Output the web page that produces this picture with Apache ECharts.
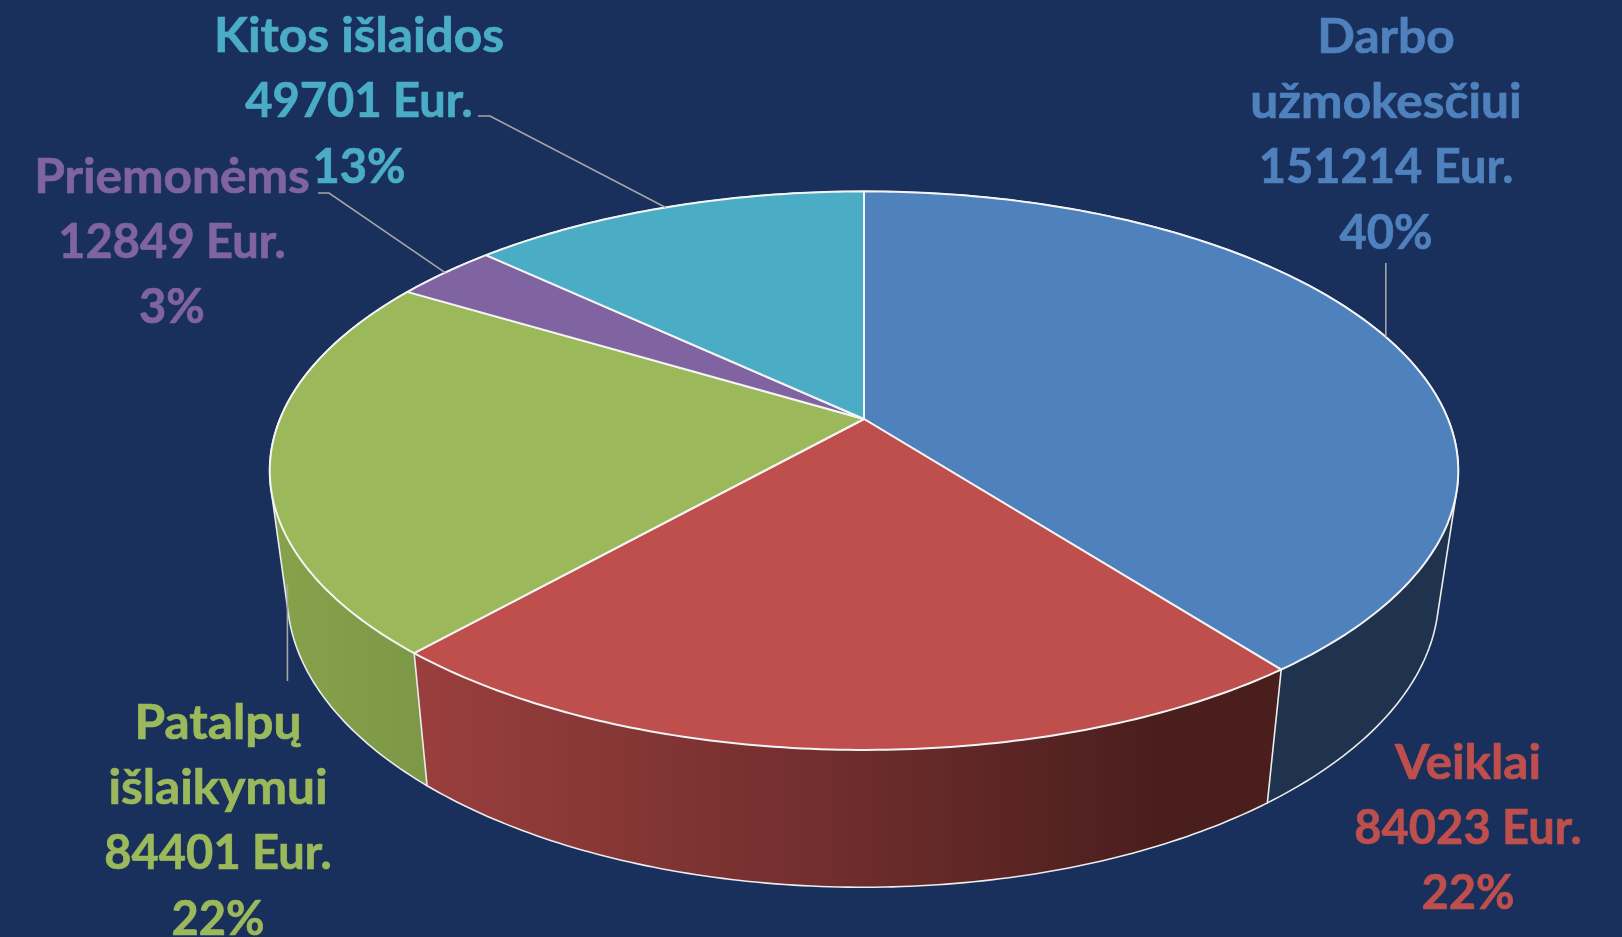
<!DOCTYPE html>
<html>
<head>
<meta charset="utf-8">
<style>html,body{margin:0;padding:0;background:#19305d;overflow:hidden}#c{width:1622px;height:937px}</style>
<script src="https://cdn.jsdelivr.net/npm/echarts@6/dist/echarts.min.js"></script>
</head>
<body>
<div id="c"></div>
<script>
const categories = ['Darbo\nužmokesčiui', 'Veiklai', 'Patalpų\nišlaikymui', 'Priemonėms', 'Kitos išlaidos'];
const amounts = [151214, 84023, 84401, 12849, 49701];
const currency = 'Eur.';
const topColors = ['#4f81bd', '#be4f4c', '#9bb95a', '#8064a2', '#4bacc6'];
const sideColors = [
  [[0, '#1f334e'], [1, '#1f334e']],
  [[0, '#9a3f3e'], [0.5, '#6e2d2c'], [0.85, '#4b1e1e'], [1, '#4b1e1e']],
  [[0, '#86a34b'], [1, '#7c9746']],
  [[0, '#5c4877'], [1, '#5c4877']],
  [[0, '#347c90'], [1, '#347c90']]
];
// label centre x, first baseline y, leader bend points (anchor on the rim is computed)
const labelX = [1386, 1468, 218, 172, 359];
const labelBaseline = [53.5, 779.5, 739.5, 193.5, 53];
const lineStep = 65.3;
const nameStretch = 1.055;
const leaderBends = [
  [[0, 263]],
  null,
  [[0, 681]],
  [[329, 193], [318, 193]],
  [[490, 116], [478, 116]]
];
const leaderOnBottomRim = [false, false, true, false, false];

const total = amounts.reduce((s, v) => s + v, 0);
const tilt = -0.185;
const topRim = { cx: 864, cy: 419, a: 584, b: 269.7 };
const lowRim = { cx: 863, cy: 540, a: 566, b: 283 };

function project(rim, deg) {
  const t = deg * Math.PI / 180, x = Math.sin(t), y = -Math.cos(t), w = 1 + tilt * y;
  return [rim.cx + rim.a * x / w, rim.cy + rim.b * y / w];
}
function arc(rim, from, to) {
  const pts = [], n = Math.max(2, Math.ceil((to - from) / 0.75));
  for (let i = 0; i <= n; i++) pts.push(project(rim, from + (to - from) * i / n));
  return pts;
}
function hull(points) {
  const p = points.slice().sort((a, b) => a[0] - b[0] || a[1] - b[1]);
  const cross = (o, a, b) => (a[0] - o[0]) * (b[1] - o[1]) - (a[1] - o[1]) * (b[0] - o[0]);
  const half = list => {
    const out = [];
    for (const q of list) {
      while (out.length > 1 && cross(out[out.length - 2], out[out.length - 1], q) <= 0) out.pop();
      out.push(q);
    }
    out.pop();
    return out;
  };
  return half(p).concat(half(p.slice().reverse()));
}

function renderSlice(params, api) {
  const i = params.dataIndex;
  const value = api.value(1);
  let before = 0;
  for (let j = 0; j < i; j++) before += amounts[j];
  const from = before / total * 360, to = (before + value) / total * 360, mid = (from + to) / 2;
  const children = [];

  const spansFront = from <= 180 && to >= 180;
  children.push({
    type: 'polygon', z2: spansFront ? 3 : 1, silent: true,
    shape: { points: hull(arc(topRim, from, to).concat(arc(lowRim, from, to))) },
    style: {
      fill: { type: 'linear', x: 0, y: 0, x2: 1, y2: 0, colorStops: sideColors[i].map(c => ({ offset: c[0], color: c[1] })) },
      stroke: '#ececec', lineWidth: 1.6, lineJoin: 'round'
    }
  });
  children.push({
    type: 'polygon', z2: 5, silent: true,
    shape: { points: [[topRim.cx, topRim.cy]].concat(arc(topRim, from, to)) },
    style: { fill: topColors[i], stroke: '#f4f4f4', lineWidth: 2, lineJoin: 'round' }
  });

  if (leaderBends[i]) {
    const anchor = project(leaderOnBottomRim[i] ? lowRim : topRim, mid);
    const pts = [anchor].concat(leaderBends[i].map(p => [p[0] || anchor[0], p[1]]));
    children.push({
      type: 'polyline', z2: 7, silent: true,
      shape: { points: pts },
      style: { fill: 'none', stroke: '#a6a6a6', lineWidth: 1.6 }
    });
  }

  const names = categories[i].split('\n');
  const lines = names.concat([value + ' ' + currency, Math.round(value / total * 100) + '%']);
  lines.forEach((line, k) => {
    children.push({
      type: 'text', z2: 9, silent: true,
      x: labelX[i], y: labelBaseline[i] + k * lineStep - 16,
      scaleX: k < names.length ? nameStretch : 1,
      style: {
        x: 0, y: 0, text: line,
        fill: topColors[i], stroke: topColors[i], lineWidth: 0.7,
        align: 'center', verticalAlign: 'middle',
        font: 'bold 47px Lato'
      }
    });
  });
  return { type: 'group', children };
}

const chart = echarts.init(document.getElementById('c'), null, { renderer: 'canvas', width: 1622, height: 937 });
chart.setOption({
  backgroundColor: '#19305d',
  animation: false,
  series: [{
    type: 'custom',
    coordinateSystem: 'none',
    renderItem: renderSlice,
    silent: true,
    data: categories.map((c, i) => [c, amounts[i]])
  }]
});
</script>
</body>
</html>
